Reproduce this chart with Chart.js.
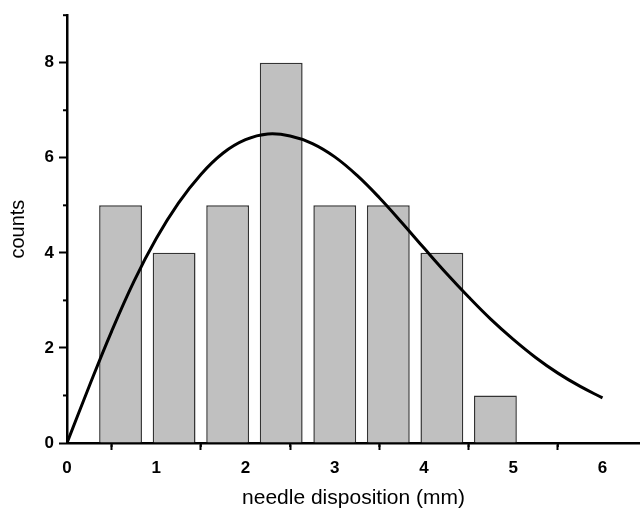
<!DOCTYPE html>
<html>
<head>
<meta charset="utf-8">
<script src="https://cdn.jsdelivr.net/npm/chart.js@4/dist/chart.umd.min.js"></script>
<style>
  html, body { margin: 0; padding: 0; background: #ffffff; }
  #wrap { width: 640px; height: 511px; position: relative; }
</style>
</head>
<body>
<div id="wrap"><canvas id="c" width="640" height="511"></canvas></div>
<script>
// ---- data ----
const binCenters = [0.6, 1.2, 1.8, 2.4, 3.0, 3.6, 4.2, 4.8];
const counts     = [5, 4, 5, 8, 5, 5, 4, 1];

const fitX = [0, 0.25, 0.5, 0.75, 1.0, 1.25, 1.5, 1.75, 2.0, 2.25, 2.5, 2.75, 3.0, 3.25, 3.5, 3.75, 4.0, 4.25, 4.5, 4.75, 5.0, 5.25, 5.5, 5.75, 6.0];
const fitY = [0, 1.2, 2.35, 3.4, 4.3, 5.05, 5.65, 6.1, 6.38, 6.5, 6.46, 6.3, 6.02, 5.63, 5.16, 4.64, 4.1, 3.57, 3.07, 2.6, 2.18, 1.8, 1.47, 1.19, 0.95];

const xTickLabels = [0, 1, 2, 3, 4, 5, 6];
const yTickLabels = [0, 2, 4, 6, 8];

const xTitle = 'needle disposition (mm)';
const yTitle = 'counts';

// ---- build datasets ----
const barData = binCenters.map((x, i) => ({ x: x, y: counts[i] }));
const fitData = fitX.map((x, i) => ({ x: x, y: fitY[i] }));

const FONT = "'Liberation Sans', Arial, Helvetica, sans-serif";

const minorTicks = {
  id: 'minorTicks',
  afterDraw(chart) {
    const ctx = chart.ctx;
    const xs = chart.scales.x, ys = chart.scales.y;
    ctx.save();
    ctx.strokeStyle = '#000';
    ctx.lineWidth = 2;
    for (let v = xs.min + 0.5; v <= xs.max; v += 1) {
      const px = xs.getPixelForValue(v);
      ctx.beginPath();
      ctx.moveTo(px, xs.top);
      ctx.lineTo(px, xs.top + 4);
      ctx.stroke();
    }
    for (let v = ys.min + 1; v <= ys.max; v += 2) {
      const py = ys.getPixelForValue(v);
      ctx.beginPath();
      ctx.moveTo(ys.right, py);
      ctx.lineTo(ys.right - 4, py);
      ctx.stroke();
    }
    ctx.restore();
  }
};

new Chart(document.getElementById('c'), {
  data: {
    datasets: [
      {
        type: 'line',
        data: fitData,
        borderColor: '#000000',
        borderWidth: 3,
        pointRadius: 0,
        fill: false,
        tension: 0.4,
        order: 0
      },
      {
        type: 'bar',
        data: barData,
        backgroundColor: '#c0c0c0',
        borderColor: '#333333',
        borderWidth: 1.5,
        barPercentage: 0.8,
        categoryPercentage: 1.0,
        order: 1
      }
    ]
  },
  options: {
    responsive: false,
    animation: false,
    events: [],
    layout: { padding: { top: 14, left: 0, right: 0, bottom: 0 } },
    plugins: { legend: { display: false }, tooltip: { enabled: false } },
    scales: {
      x: {
        type: 'linear',
        min: 0,
        max: 6.42,
        offset: false,
        border: { display: true, color: '#000', width: 2.5 },
        grid: {
          drawOnChartArea: false,
          drawTicks: true,
          tickLength: 7,
          tickWidth: 2,
          tickColor: '#000'
        },
        ticks: {
          stepSize: 1,
          includeBounds: false,
          autoSkip: false,
          maxRotation: 0,
          padding: 8,
          color: '#000',
          font: { family: FONT, size: 17, weight: 'bold' },
          callback: (v) => xTickLabels.includes(v) ? String(v) : ''
        },
        title: {
          display: true,
          text: xTitle,
          color: '#000',
          font: { family: FONT, size: 21 },
          padding: { top: 0, bottom: 0 }
        },
        afterFit: (s) => { s.height = 68; }
      },
      y: {
        min: 0,
        max: 9,
        border: { display: true, color: '#000', width: 2.5 },
        grid: {
          drawOnChartArea: false,
          drawTicks: true,
          tickLength: 8,
          tickWidth: 2,
          tickColor: (c) => (yTickLabels.includes(c.tick.value) ? '#000' : 'rgba(0,0,0,0)')
        },
        ticks: {
          stepSize: 1,
          autoSkip: false,
          padding: 5,
          color: '#000',
          font: { family: FONT, size: 17, weight: 'bold' },
          callback: (v) => yTickLabels.includes(v) ? String(v) : ''
        },
        title: {
          display: true,
          text: yTitle,
          color: '#000',
          font: { family: FONT, size: 20 },
          padding: { top: 6, bottom: 0 }
        },
        afterFit: (s) => { s.width = 67; }
      }
    }
  },
  plugins: [minorTicks]
});
</script>
</body>
</html>
